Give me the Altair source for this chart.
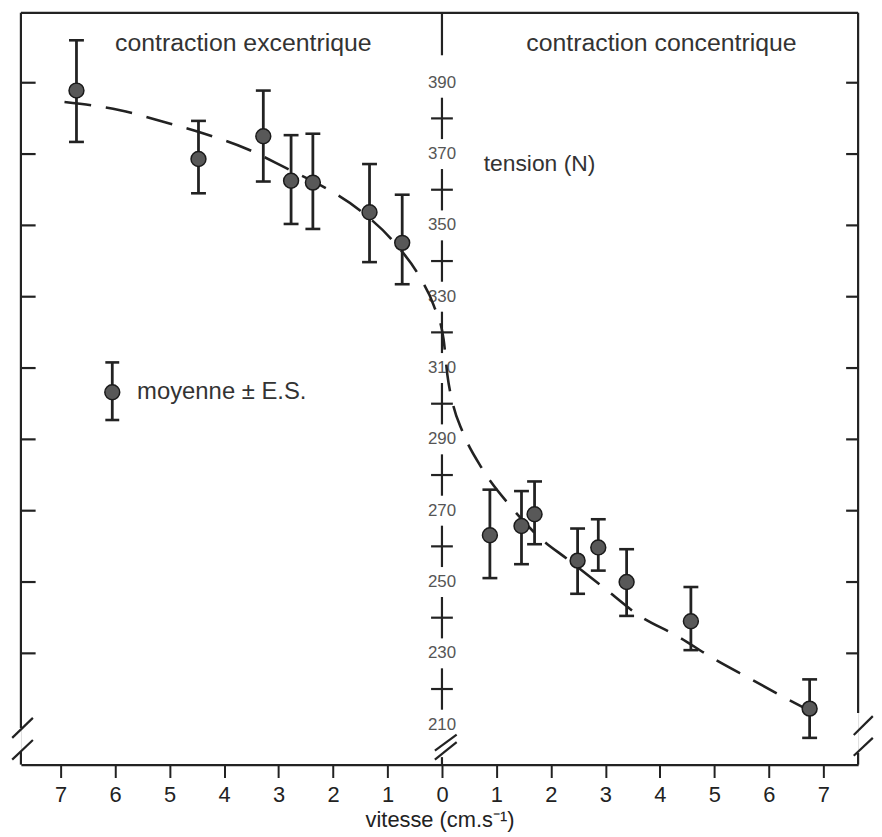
import altair as alt
import pandas as pd

# ---------------- data ----------------
speed = [-6.71, -4.47, -3.28, -2.77, -2.37, -1.33, -0.73,
         0.88, 1.46, 1.70, 2.49, 2.87, 3.39, 4.57, 6.75]
mean = [387.8, 368.6, 375.0, 362.5, 362.0, 353.7, 345.1,
        263.1, 265.7, 269.0, 256.0, 259.7, 250.0, 239.0, 214.5]
upper = [401.9, 379.3, 387.8, 375.3, 375.7, 367.2, 358.6,
         275.9, 275.5, 278.2, 265.0, 267.6, 259.2, 248.6, 222.7]
lower = [373.4, 359.0, 362.3, 350.4, 349.0, 339.7, 333.5,
         251.1, 255.0, 260.6, 246.7, 253.2, 240.5, 230.9, 206.3]

curve_x = [-6.93, -5.91, -5.10, -4.36, -3.59, -2.84, -2.15, -1.48, -0.88, -0.40,
           -0.15, 0.03, 0.10, 0.20, 0.38, 0.75, 1.26, 1.77, 2.32, 2.97, 3.63,
           4.30, 4.98, 5.67, 6.34, 6.65]
curve_y = [384.6, 382.3, 379.0, 375.7, 371.5, 365.9, 360.6, 353.9, 345.3, 335.3,
           327.5, 318.0, 308.0, 300.0, 292.1, 281.5, 271.2, 262.8, 256.2, 248.4, 240.5,
           235.0, 228.6, 222.8, 217.2, 214.7]

y_labels = [210, 230, 250, 270, 290, 310, 330, 350, 370, 390]
y_crosses = [220, 240, 260, 280, 300, 320, 340, 360, 380]
frame_ticks = [230, 250, 270, 290, 310, 330, 350, 370, 390]
x_ticks = list(range(-7, 8))

title_left = "contraction excentrique"
title_right = "contraction concentrique"
y_title = "tension (N)"
legend_text = "moyenne ± E.S."
x_title = "vitesse (cm.s⁻¹)"

# ---------------- scales ----------------
X_MIN, X_MAX = -7.73, 7.64
Y_MIN, Y_MAX = 198.8, 409.6
INK = "#222222"
FONT = "Liberation Sans"

XS = alt.Scale(domain=[X_MIN, X_MAX], nice=False, zero=False)
YS = alt.Scale(domain=[Y_MIN, Y_MAX], nice=False, zero=False)
XAX = alt.Axis(values=x_ticks, labelExpr="toString(abs(datum.value))", title=x_title,
               grid=False, domain=True, domainColor=INK, domainWidth=2.5,
               ticks=True, tickColor=INK, tickWidth=2, tickSize=13,
               labelFontSize=22, labelColor=INK, labelPadding=7, labelFont=FONT,
               titleFontSize=22, titleFontWeight="normal", titleColor=INK,
               titlePadding=4, titleFont=FONT, labelFlush=False, labelOverlap=False)


def X(f):
    return alt.X(f, type="quantitative", scale=XS, axis=XAX)


def Y(f):
    return alt.Y(f, type="quantitative", scale=YS, axis=None)


# ---------------- frame and central axis segments ----------------
segs = [
    (X_MIN, Y_MAX, X_MAX, Y_MAX),                 # top border
    (X_MIN, Y_MAX, X_MIN, 209.1),                 # left border (upper)
    (X_MIN, 202.5, X_MIN, Y_MIN),                 # left border (lower)
    (X_MIN - 0.16, 206.3, X_MIN + 0.22, 211.9),   # left break
    (X_MIN - 0.16, 200.2, X_MIN + 0.22, 205.7),
    (X_MAX, Y_MAX, X_MAX, 213.3),                 # right border (upper)
    (X_MAX, 202.1, X_MAX, Y_MIN),                 # right border (lower)
    (X_MAX - 0.08, 207.1, X_MAX + 0.27, 212.4),   # right break
    (X_MAX - 0.08, 201.3, X_MAX + 0.27, 206.3),
    (0, Y_MAX, 0, 397.7),                         # central axis top
    (-0.13, 202.7, 0.27, 207.2),                  # central break
    (-0.13, 200.2, 0.27, 205.1),
    (0, 200.9, 0, Y_MIN),
]
for v in frame_ticks:
    segs.append((X_MIN, v, X_MIN + 0.27, v))
    segs.append((X_MAX - 0.22, v, X_MAX, v))
for v in y_crosses:
    segs.append((-0.2, v, 0.2, v))
    segs.append((0, v - 5.8, 0, v + 5.8))

seg_df = pd.DataFrame(segs, columns=["x", "y", "x2", "y2"])
frame = alt.Chart(seg_df).mark_rule(color=INK, strokeWidth=2.2).encode(
    x=X("x"), y=Y("y"), x2="x2:Q", y2="y2:Q")

lab_df = pd.DataFrame({"x": [0] * len(y_labels), "v": y_labels})
ylabels = alt.Chart(lab_df).mark_text(fontSize=17, color="#555555", font=FONT,
                                      align="center", baseline="middle").encode(
    x=X("x"), y=Y("v"), text="v:N")

# ---------------- fitted curve ----------------
curve_df = pd.DataFrame({"x": curve_x, "y": curve_y})
curve = alt.Chart(curve_df).mark_line(color=INK, strokeWidth=2.6, strokeDash=[27, 15],
                                      interpolate="monotone").encode(
    x=X("x"), y=Y("y"), order="x:Q")

# ---------------- means with error bars ----------------
df = pd.DataFrame({"speed": speed, "mean": mean, "upper": upper, "lower": lower})
bars = alt.Chart(df).mark_rule(color=INK, strokeWidth=2.8).encode(
    x=X("speed"), y=Y("lower"), y2="upper:Q")
cap_hi = alt.Chart(df).mark_tick(color=INK, orient="horizontal", size=15, thickness=2.6,
                                 opacity=1).encode(x=X("speed"), y=Y("upper"))
cap_lo = alt.Chart(df).mark_tick(color=INK, orient="horizontal", size=15, thickness=2.6,
                                 opacity=1).encode(x=X("speed"), y=Y("lower"))
pts = alt.Chart(df).mark_point(filled=True, shape="circle", size=225, fill="#585858",
                               stroke="#1a1a1a", strokeWidth=1.5, opacity=1).encode(
    x=X("speed"), y=Y("mean"))

# ---------------- annotations ----------------
one = pd.DataFrame({"a": [0]})


def label(txt, x, y, size, align):
    return alt.Chart(one).mark_text(text=txt, fontSize=size, font=FONT, color="#333333",
                                    align=align, baseline="middle").encode(
        x=alt.value(x), y=alt.value(y))


t1 = label(title_left, 224, 30, 25, "center")
t2 = label(title_right, 645, 30, 25, "center")
t3 = label(y_title, 466, 152, 23, "left")
t4 = label(legend_text, 117, 382, 24, "left")

leg_bar = alt.Chart(one).mark_rule(color=INK, strokeWidth=2.8).encode(
    x=alt.value(92), y=alt.value(352), y2=alt.value(410))
leg_cap1 = alt.Chart(one).mark_rule(color=INK, strokeWidth=2.6).encode(
    x=alt.value(85), x2=alt.value(99), y=alt.value(352))
leg_cap2 = alt.Chart(one).mark_rule(color=INK, strokeWidth=2.6).encode(
    x=alt.value(85), x2=alt.value(99), y=alt.value(410))
leg_pt = alt.Chart(one).mark_point(filled=True, shape="circle", size=225, fill="#585858",
                                   stroke="#1a1a1a", strokeWidth=1.5, opacity=1).encode(
    x=alt.value(92), y=alt.value(382))

chart = alt.layer(
    frame, ylabels, curve, bars, cap_hi, cap_lo, pts,
    t1, t2, t3, t4, leg_bar, leg_cap1, leg_cap2, leg_pt
).properties(
    width=843, height=757,
    autosize=alt.AutoSizeParams(type="none"),
    padding={"left": 13, "top": 2, "right": 16, "bottom": 68},
    background="white",
).configure_view(stroke=None).configure(font=FONT)

chart.save("out.html", embed_options={"renderer": "svg", "actions": False})
